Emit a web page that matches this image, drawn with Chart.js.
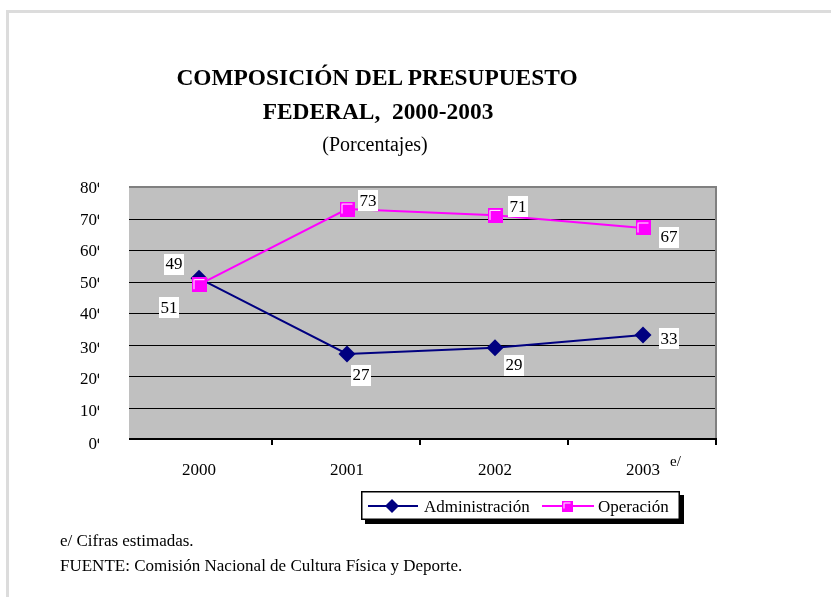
<!DOCTYPE html>
<html><head><meta charset="utf-8">
<script src="https://cdn.jsdelivr.net/npm/chart.js@4/dist/chart.umd.min.js"></script>
<style>
html,body{margin:0;padding:0;background:#fff;}
#wrap{position:relative;width:831px;height:597px;overflow:hidden;font-family:"Liberation Serif","Times New Roman",serif;color:#000;}
#frame{position:absolute;left:6px;top:10px;width:900px;height:700px;border-left:3px solid #dcdcdc;border-top:3px solid #dcdcdc;}
canvas{position:absolute;left:0;top:0;}
.t{position:absolute;white-space:nowrap;transform:translateX(-50%);}
.l{position:absolute;white-space:nowrap;}
</style></head>
<body>
<div id="wrap">
<div id="frame"></div>
<canvas id="c" width="831" height="597"></canvas>
<div class="t" style="left:377px;top:66px;font-size:23.4px;line-height:23px;font-weight:bold;">COMPOSICIÓN DEL PRESUPUESTO</div>
<div class="t" style="left:378px;top:100px;font-size:23.4px;line-height:23px;font-weight:bold;">FEDERAL,&nbsp; 2000-2003</div>
<div class="t" style="left:375px;top:134px;font-size:20px;line-height:20px;">(Porcentajes)</div>
<div class="l" style="left:60px;top:532px;font-size:17px;line-height:17px;">e/ Cifras estimadas.</div>
<div class="l" style="left:60px;top:557px;font-size:17px;line-height:17px;">FUENTE: Comisión Nacional de Cultura Física y Deporte.</div>
</div>
<script>
// ---- data ----
const categories = ['2000', '2001', '2002', '2003'];
const administracion = [51, 27, 29, 33];
const operacion = [49, 73, 71, 67];
const yTicks = [0, 10, 20, 30, 40, 50, 60, 70, 80];
const seriesNames = ['Administración', 'Operación'];
const estimatedMark = 'e/';

// label offsets (style, px)
const admLabelOffsets = [[-30, 29], [14, 21], [19, 17], [26, 3]];
const opLabelOffsets = [[-25, -21], [21, -9], [23, -9], [26, 9]];

const NAVY = '#000080', MAG = '#ff00ff';
const FONT = '"Liberation Serif","Times New Roman",serif';

function squareImg(s) {
  const c = document.createElement('canvas');
  c.width = s; c.height = s;
  const g = c.getContext('2d');
  g.fillStyle = MAG; g.fillRect(0, 0, s, s);
  g.strokeStyle = '#ffffff'; g.lineWidth = 1;
  g.beginPath();
  g.moveTo(2.5, s - 3); g.lineTo(2.5, 2.5); g.lineTo(s - 2, 2.5);
  g.stroke();
  return c;
}
const sqBig = squareImg(15);
const sqSmall = squareImg(11);

const bgPlugin = {
  id: 'bg',
  beforeDatasetsDraw(chart) {
    const { ctx, chartArea: a, scales: { x, y } } = chart;
    const bgLeft = a.left + 4;
    ctx.save();
    ctx.fillStyle = '#c0c0c0';
    ctx.fillRect(bgLeft, a.top, a.right - bgLeft, a.bottom - a.top);
    ctx.strokeStyle = '#000'; ctx.lineWidth = 1;
    yTicks.forEach(v => {
      if (v === 0 || v === 80) return;
      const py = Math.round(y.getPixelForValue(v)) + 0.5;
      ctx.beginPath(); ctx.moveTo(bgLeft, py); ctx.lineTo(a.right, py); ctx.stroke();
    });
    // top and right gray border
    ctx.strokeStyle = '#808080'; ctx.lineWidth = 2;
    ctx.beginPath();
    ctx.moveTo(bgLeft, a.top); ctx.lineTo(a.right - 1, a.top); ctx.lineTo(a.right - 1, a.bottom);
    ctx.stroke();
    // bottom axis
    ctx.strokeStyle = '#000'; ctx.lineWidth = 2;
    ctx.beginPath(); ctx.moveTo(bgLeft, a.bottom); ctx.lineTo(a.right, a.bottom); ctx.stroke();
    // tick marks at category boundaries
    const step = x.getPixelForValue(1) - x.getPixelForValue(0);
    for (let i = 0; i < categories.length; i++) {
      const px = Math.round(x.getPixelForValue(i) + step / 2);
      ctx.beginPath(); ctx.moveTo(px - 1, a.bottom); ctx.lineTo(px - 1, a.bottom + 6); ctx.stroke();
    }
    // y labels (clipped)
    ctx.save();
    ctx.beginPath(); ctx.rect(0, 0, 99, 597); ctx.clip();
    ctx.font = '17px ' + FONT; ctx.fillStyle = '#000';
    ctx.textBaseline = 'middle'; ctx.textAlign = 'right';
    const pw = ctx.measureText('%').width;
    yTicks.forEach(v => {
      const py = y.getPixelForValue(v);
      ctx.fillText(v + '%', 97 + pw, py + 2 + (v === 0 ? 4 : (v < 40 ? 2 : 0)));
    });
    ctx.restore();
    // x labels
    ctx.fillStyle = '#000';
    ctx.font = '17px ' + FONT; ctx.textAlign = 'center'; ctx.textBaseline = 'middle';
    categories.forEach((c, i) => ctx.fillText(c, x.getPixelForValue(i), a.bottom + 32));
    ctx.font = '15px ' + FONT; ctx.textAlign = 'left';
    ctx.fillText(estimatedMark, x.getPixelForValue(categories.length - 1) + 27, a.bottom + 23);
    ctx.restore();
  },
  afterDatasetsDraw(chart) {
    const { ctx } = chart;
    ctx.save();
    ctx.font = '17px ' + FONT; ctx.textAlign = 'center'; ctx.textBaseline = 'middle';
    const drawLabels = (dsIndex, data, offs) => {
      const meta = chart.getDatasetMeta(dsIndex);
      meta.data.forEach((pt, i) => {
        const t = String(data[i]);
        const w = ctx.measureText(t).width + 3;
        const cx = pt.x + offs[i][0], cy = pt.y + offs[i][1];
        ctx.fillStyle = '#fff';
        ctx.fillRect(Math.round(cx - w / 2), Math.round(cy - 10), Math.round(w), 21);
        ctx.fillStyle = '#000';
        ctx.fillText(t, cx, cy + 1);
      });
    };
    drawLabels(0, administracion, admLabelOffsets);
    drawLabels(1, operacion, opLabelOffsets);
    ctx.restore();
  },
  afterDraw(chart) {
    const { ctx } = chart;
    ctx.save();
    const L = 361, T = 491, W = 319, H = 29;
    ctx.fillStyle = '#000';
    ctx.fillRect(L + 4, T + 4, W, H);
    ctx.fillStyle = '#fff';
    ctx.fillRect(L, T, W, H);
    ctx.strokeStyle = '#000'; ctx.lineWidth = 1.5;
    ctx.strokeRect(L + 0.75, T + 0.75, W - 1.5, H - 1.5);
    const cy = T + 15;
    // Administración
    ctx.strokeStyle = NAVY; ctx.lineWidth = 2;
    ctx.beginPath(); ctx.moveTo(368, cy); ctx.lineTo(418, cy); ctx.stroke();
    ctx.fillStyle = NAVY;
    ctx.beginPath(); ctx.moveTo(392 - 7, cy); ctx.lineTo(392, cy - 7); ctx.lineTo(392 + 7, cy); ctx.lineTo(392, cy + 7); ctx.closePath(); ctx.fill();
    // Operación
    ctx.strokeStyle = MAG;
    ctx.beginPath(); ctx.moveTo(542, cy); ctx.lineTo(594, cy); ctx.stroke();
    ctx.drawImage(sqSmall, 567 - 5.5, cy - 5.5);
    ctx.fillStyle = '#000'; ctx.font = '17px ' + FONT; ctx.textAlign = 'left'; ctx.textBaseline = 'middle';
    ctx.fillText(seriesNames[0], 424, cy + 2);
    ctx.fillText(seriesNames[1], 598, cy + 2);
    ctx.restore();
  }
};

new Chart(document.getElementById('c'), {
  type: 'line',
  data: {
    labels: categories,
    datasets: [
      { label: seriesNames[0], data: administracion, borderColor: NAVY, backgroundColor: NAVY, borderWidth: 2,
        pointStyle: 'rectRot', pointRadius: 8.5, pointBorderWidth: 0, pointBackgroundColor: NAVY, tension: 0, order: 1 },
      { label: seriesNames[1], data: operacion, borderColor: MAG, backgroundColor: MAG, borderWidth: 2,
        pointStyle: sqBig, pointRadius: 7.5, tension: 0, order: 0 }
    ]
  },
  options: {
    responsive: false, animation: false, devicePixelRatio: 1,
    layout: { padding: { left: 125, top: 187, right: 114, bottom: 158 } },
    plugins: { legend: { display: false }, title: { display: false }, tooltip: { enabled: false } },
    scales: {
      x: { offset: true, grid: { display: false, drawTicks: false }, border: { display: false }, ticks: { display: false } },
      y: { min: 0, max: 80, ticks: { stepSize: 10, display: false }, grid: { display: false, drawTicks: false }, border: { display: false } }
    }
  },
  plugins: [bgPlugin]
});
</script>
</body></html>
